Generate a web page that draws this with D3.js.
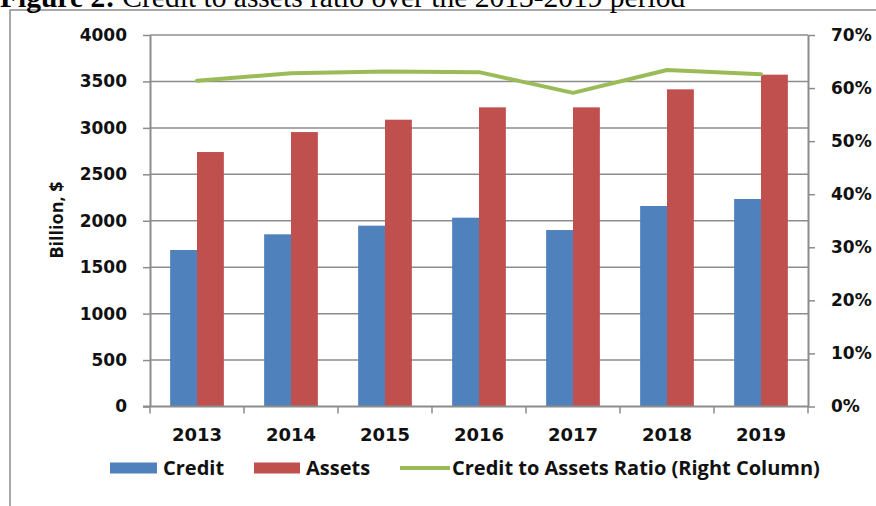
<!DOCTYPE html>
<html>
<head>
<meta charset="utf-8">
<script src="https://cdn.jsdelivr.net/npm/d3@7"></script>
<style>
  body { margin: 0; background: #fff; }
  svg { display: block; }
</style>
</head>
<body>
<svg id="chart" width="876" height="506"></svg>
<script>
// Chart data
const years = ["2013", "2014", "2015", "2016", "2017", "2018", "2019"];
const credit = [1685, 1854, 1947, 2033, 1900, 2159, 2234];
const assets = [2740, 2955, 3088, 3221, 3221, 3415, 3573];
const ratio = [61.4, 62.8, 63.1, 63.0, 59.1, 63.4, 62.6];
const leftTicks = [0, 500, 1000, 1500, 2000, 2500, 3000, 3500, 4000];
const rightTicks = [0, 10, 20, 30, 40, 50, 60, 70];

const svg = d3.select("#chart");
const gray = "#8c8c8c";
const tickFont = "DejaVu Sans, Verdana, sans-serif";
const legendFont = "'Open Sans', Lato, sans-serif";

// plot area
const plotLeft = 150, plotRight = 808, plotTop = 35, plotBottom = 406.5;

// Outer frame (cut by the page edge on the right and bottom)
svg.append("rect")
    .attr("x", 10).attr("y", 10)
    .attr("width", 900).attr("height", 600)
    .attr("fill", "none")
    .attr("stroke", gray)
    .attr("stroke-width", 1.5);

// Title, partly cut off at the top like in the source page
const title = svg.append("text")
    .attr("x", 0).attr("y", 7)
    .attr("font-family", "Liberation Serif, 'Times New Roman', serif")
    .attr("font-size", "29.5px")
    .attr("fill", "#000");
title.append("tspan").attr("font-weight", "bold").text("Figure 2:");
title.append("tspan").text(" Credit to assets ratio over the 2013-2019 period");

// Scales
const x0 = d3.scaleBand().domain(years).range([plotLeft, plotRight]).padding(0);
const bw = x0.bandwidth();
const x1 = d3.scaleBand()
    .domain(["Credit", "Assets"])
    .range([bw * 0.2143, bw * 0.7857]);
const yL = d3.scaleLinear().domain([0, 4000]).range([plotBottom, plotTop]);
const yR = d3.scaleLinear().domain([0, 70]).range([plotBottom, plotTop]);

// Gridlines
svg.append("g")
    .selectAll("line")
    .data(leftTicks.slice(1))
    .enter()
    .append("line")
    .attr("x1", plotLeft).attr("x2", plotRight)
    .attr("y1", (d) => yL(d)).attr("y2", (d) => yL(d))
    .attr("stroke", gray)
    .attr("stroke-width", 1.5);

// Bars for credit
svg.append("g")
    .selectAll("rect")
    .data(years)
    .enter()
    .append("rect")
    .attr("x", (d) => x0(d) + x1("Credit"))
    .attr("y", (d, i) => yL(credit[i]))
    .attr("width", x1.bandwidth())
    .attr("height", (d, i) => plotBottom - yL(credit[i]))
    .attr("fill", "#4f81bd");

// Bars for assets
svg.append("g")
    .selectAll("rect")
    .data(years)
    .enter()
    .append("rect")
    .attr("x", (d) => x0(d) + x1("Assets"))
    .attr("y", (d, i) => yL(assets[i]))
    .attr("width", x1.bandwidth())
    .attr("height", (d, i) => plotBottom - yL(assets[i]))
    .attr("fill", "#c0504d");

// Left axis
const axL = svg.append("g")
    .attr("transform", "translate(" + plotLeft + ",0)")
    .call(d3.axisLeft(yL).tickValues(leftTicks).tickSize(7).tickPadding(16)
        .tickSizeOuter(0).tickFormat(d3.format("d")));
axL.select(".domain").attr("stroke", gray).attr("stroke-width", 2);
axL.selectAll(".tick line").attr("stroke", gray).attr("stroke-width", 1.5);
axL.selectAll("text")
    .attr("font-family", tickFont)
    .attr("font-weight", "bold")
    .attr("font-size", "17px")
    .attr("fill", "#111");

// Right axis
const axR = svg.append("g")
    .attr("transform", "translate(" + plotRight + ",0)")
    .call(d3.axisRight(yR).tickValues(rightTicks).tickSize(7).tickPadding(16)
        .tickSizeOuter(0).tickFormat((d) => d + "%"));
axR.select(".domain").attr("stroke", gray).attr("stroke-width", 2);
axR.selectAll(".tick line").attr("stroke", gray).attr("stroke-width", 1.5);
axR.selectAll("text")
    .attr("font-family", tickFont)
    .attr("font-weight", "bold")
    .attr("font-size", "17px")
    .attr("fill", "#111");

// Bottom axis: ticks at the category boundaries
const axB = svg.append("g").attr("transform", "translate(0," + plotBottom + ")");
axB.append("line")
    .attr("x1", plotLeft - 7).attr("x2", plotRight)
    .attr("stroke", gray).attr("stroke-width", 2);
axB.selectAll("line.tk")
    .data(years.concat(["end"]))
    .enter()
    .append("line")
    .attr("class", "tk")
    .attr("x1", (d, i) => (i < years.length ? x0(d) : plotRight))
    .attr("x2", (d, i) => (i < years.length ? x0(d) : plotRight))
    .attr("y1", 0).attr("y2", 7)
    .attr("stroke", gray).attr("stroke-width", 1.5);
axB.selectAll("text")
    .data(years)
    .enter()
    .append("text")
    .attr("x", (d) => x0(d) + bw / 2)
    .attr("y", 34)
    .attr("text-anchor", "middle")
    .attr("font-family", tickFont)
    .attr("font-weight", "bold")
    .attr("font-size", "18px")
    .attr("fill", "#111")
    .text((d) => d);

// Ratio line on the right scale
const line = d3.line()
    .x((d, i) => x0(years[i]) + bw / 2)
    .y((d) => yR(d));
svg.append("path")
    .datum(ratio)
    .attr("d", line)
    .attr("fill", "none")
    .attr("stroke", "#9bbb59")
    .attr("stroke-width", 4)
    .attr("stroke-linejoin", "round")
    .attr("stroke-linecap", "round");

// Y axis title
svg.append("text")
    .attr("transform", "translate(63,220) rotate(-90)")
    .attr("text-anchor", "middle")
    .attr("font-family", legendFont)
    .attr("font-weight", "bold")
    .attr("font-size", "18px")
    .attr("fill", "#111")
    .text("Billion, $");

// Legend
const legend = svg.append("g").attr("transform", "translate(0,468)");
legend.append("rect").attr("x", 110).attr("y", -5.5).attr("width", 47).attr("height", 11).attr("fill", "#4f81bd");
legend.append("rect").attr("x", 254).attr("y", -5.5).attr("width", 46).attr("height", 11).attr("fill", "#c0504d");
legend.append("line").attr("x1", 400).attr("x2", 450).attr("y1", 0).attr("y2", 0)
    .attr("stroke", "#9bbb59").attr("stroke-width", 4);
const legendItems = [
    { x: 163, label: "Credit" },
    { x: 306, label: "Assets" },
    { x: 452, label: "Credit to Assets Ratio (Right Column)" }
];
legend.selectAll("text")
    .data(legendItems)
    .enter()
    .append("text")
    .attr("x", (d) => d.x)
    .attr("y", 7)
    .attr("font-family", legendFont)
    .attr("font-weight", "bold")
    .attr("font-size", "20px")
    .attr("fill", "#111")
    .text((d) => d.label);
</script>
</body>
</html>
